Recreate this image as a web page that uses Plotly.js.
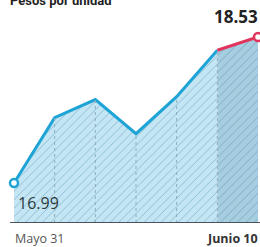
<!DOCTYPE html>
<html><head><meta charset="utf-8">
<script src="https://cdn.plot.ly/plotly-3.0.1.min.js"></script>
<style>html,body{margin:0;padding:0;background:#fff;}#c{width:260px;height:247px;}</style>
</head><body><div id="c"></div>
<script>
const days = [0, 1, 2, 3, 4, 5, 6];
const prices = [16.99, 17.68, 17.87, 17.51, 17.90, 18.39, 18.53];
const tickLabels = ["Mayo 31", "Junio 10"];
const chartTitle = "Pesos por unidad";

const n = prices.length;
const yMin = 16.568, yMax = 18.604;

// dotted verticals under the line
const gx = [], gy = [];
for (let i = 1; i < n - 1; i++) { gx.push(days[i], days[i], null); gy.push(yMin, prices[i], null); }

const traces = [
  { x: days.slice(0, n - 1), y: prices.slice(0, n - 1), type: 'scatter', mode: 'lines',
    fill: 'tozeroy', fillcolor: '#c4e5f3',
    fillpattern: { shape: '/', fgcolor: '#86b8cf', bgcolor: '#c4e5f3', size: 6, solidity: 0.14 },
    line: { color: '#1ea3d6', width: 3 }, hoverinfo: 'skip' },
  { x: days.slice(n - 2), y: prices.slice(n - 2), type: 'scatter', mode: 'lines',
    fill: 'tozeroy', fillcolor: '#a6cde0',
    fillpattern: { shape: '/', fgcolor: '#78a8bf', bgcolor: '#a6cde0', size: 6, solidity: 0.14 },
    line: { color: '#e0345c', width: 3 }, hoverinfo: 'skip' },
  { x: gx, y: gy, type: 'scatter', mode: 'lines', line: { color: '#8faebd', width: 1, dash: 'dot' }, hoverinfo: 'skip' },
  { x: [days[0]], y: [prices[0]], type: 'scatter', mode: 'markers', cliponaxis: false,
    marker: { size: 8, color: '#ffffff', line: { color: '#1ea3d6', width: 2.5 } } },
  { x: [days[n - 1]], y: [prices[n - 1]], type: 'scatter', mode: 'markers', cliponaxis: false,
    marker: { size: 8, color: '#ffffff', line: { color: '#e0345c', width: 2.5 } } }
];

const layout = {
  width: 260, height: 247,
  margin: { l: 14, r: 2, t: 30, b: 24 },
  paper_bgcolor: '#ffffff', plot_bgcolor: '#ffffff',
  showlegend: false,
  title: { text: '<b>' + chartTitle + '</b>', x: 0, xref: 'container', xanchor: 'left', y: 1, yanchor: 'middle', pad: { l: 10 },
    font: { family: 'Roboto', size: 13, color: '#222' } },
  xaxis: { range: [days[0], days[n - 1]], showgrid: false, zeroline: false, showticklabels: false, showline: false, fixedrange: true },
  yaxis: { range: [yMin, yMax], showgrid: false, zeroline: false, showticklabels: false, showline: false, fixedrange: true },
  shapes: [
    { type: 'line', xref: 'paper', yref: 'y', x0: -0.016, x1: 1.01, y0: yMin, y1: yMin, line: { color: '#4a5358', width: 2 } }
  ],
  annotations: [
    { x: days[n - 1], y: prices[n - 1], xref: 'x', yref: 'y', text: '<b>' + prices[n - 1].toFixed(2) + '</b>',
      showarrow: false, xanchor: 'right', yanchor: 'bottom', xshift: 2, yshift: 7,
      font: { family: 'Open Sans', size: 17, color: '#222' } },
    { x: days[0], y: prices[0], xref: 'x', yref: 'y', text: prices[0].toFixed(2),
      showarrow: false, xanchor: 'left', yanchor: 'middle', xshift: 2, yshift: -20,
      font: { family: 'Open Sans', size: 16, color: '#2d3a40' } },
    { x: days[0], y: 0, xref: 'x', yref: 'paper', text: tickLabels[0], showarrow: false,
      xanchor: 'left', yanchor: 'top', xshift: -1, yshift: -5, font: { family: 'Open Sans', size: 12.5, color: '#555' } },
    { x: days[n - 1], y: 0, xref: 'x', yref: 'paper', text: '<b>' + tickLabels[1] + '</b>', showarrow: false,
      xanchor: 'right', yanchor: 'top', xshift: 2, yshift: -5, font: { family: 'Open Sans', size: 12.5, color: '#333' } }
  ]
};

Plotly.newPlot('c', traces, layout, { staticPlot: true, displayModeBar: false });
</script></body></html>
